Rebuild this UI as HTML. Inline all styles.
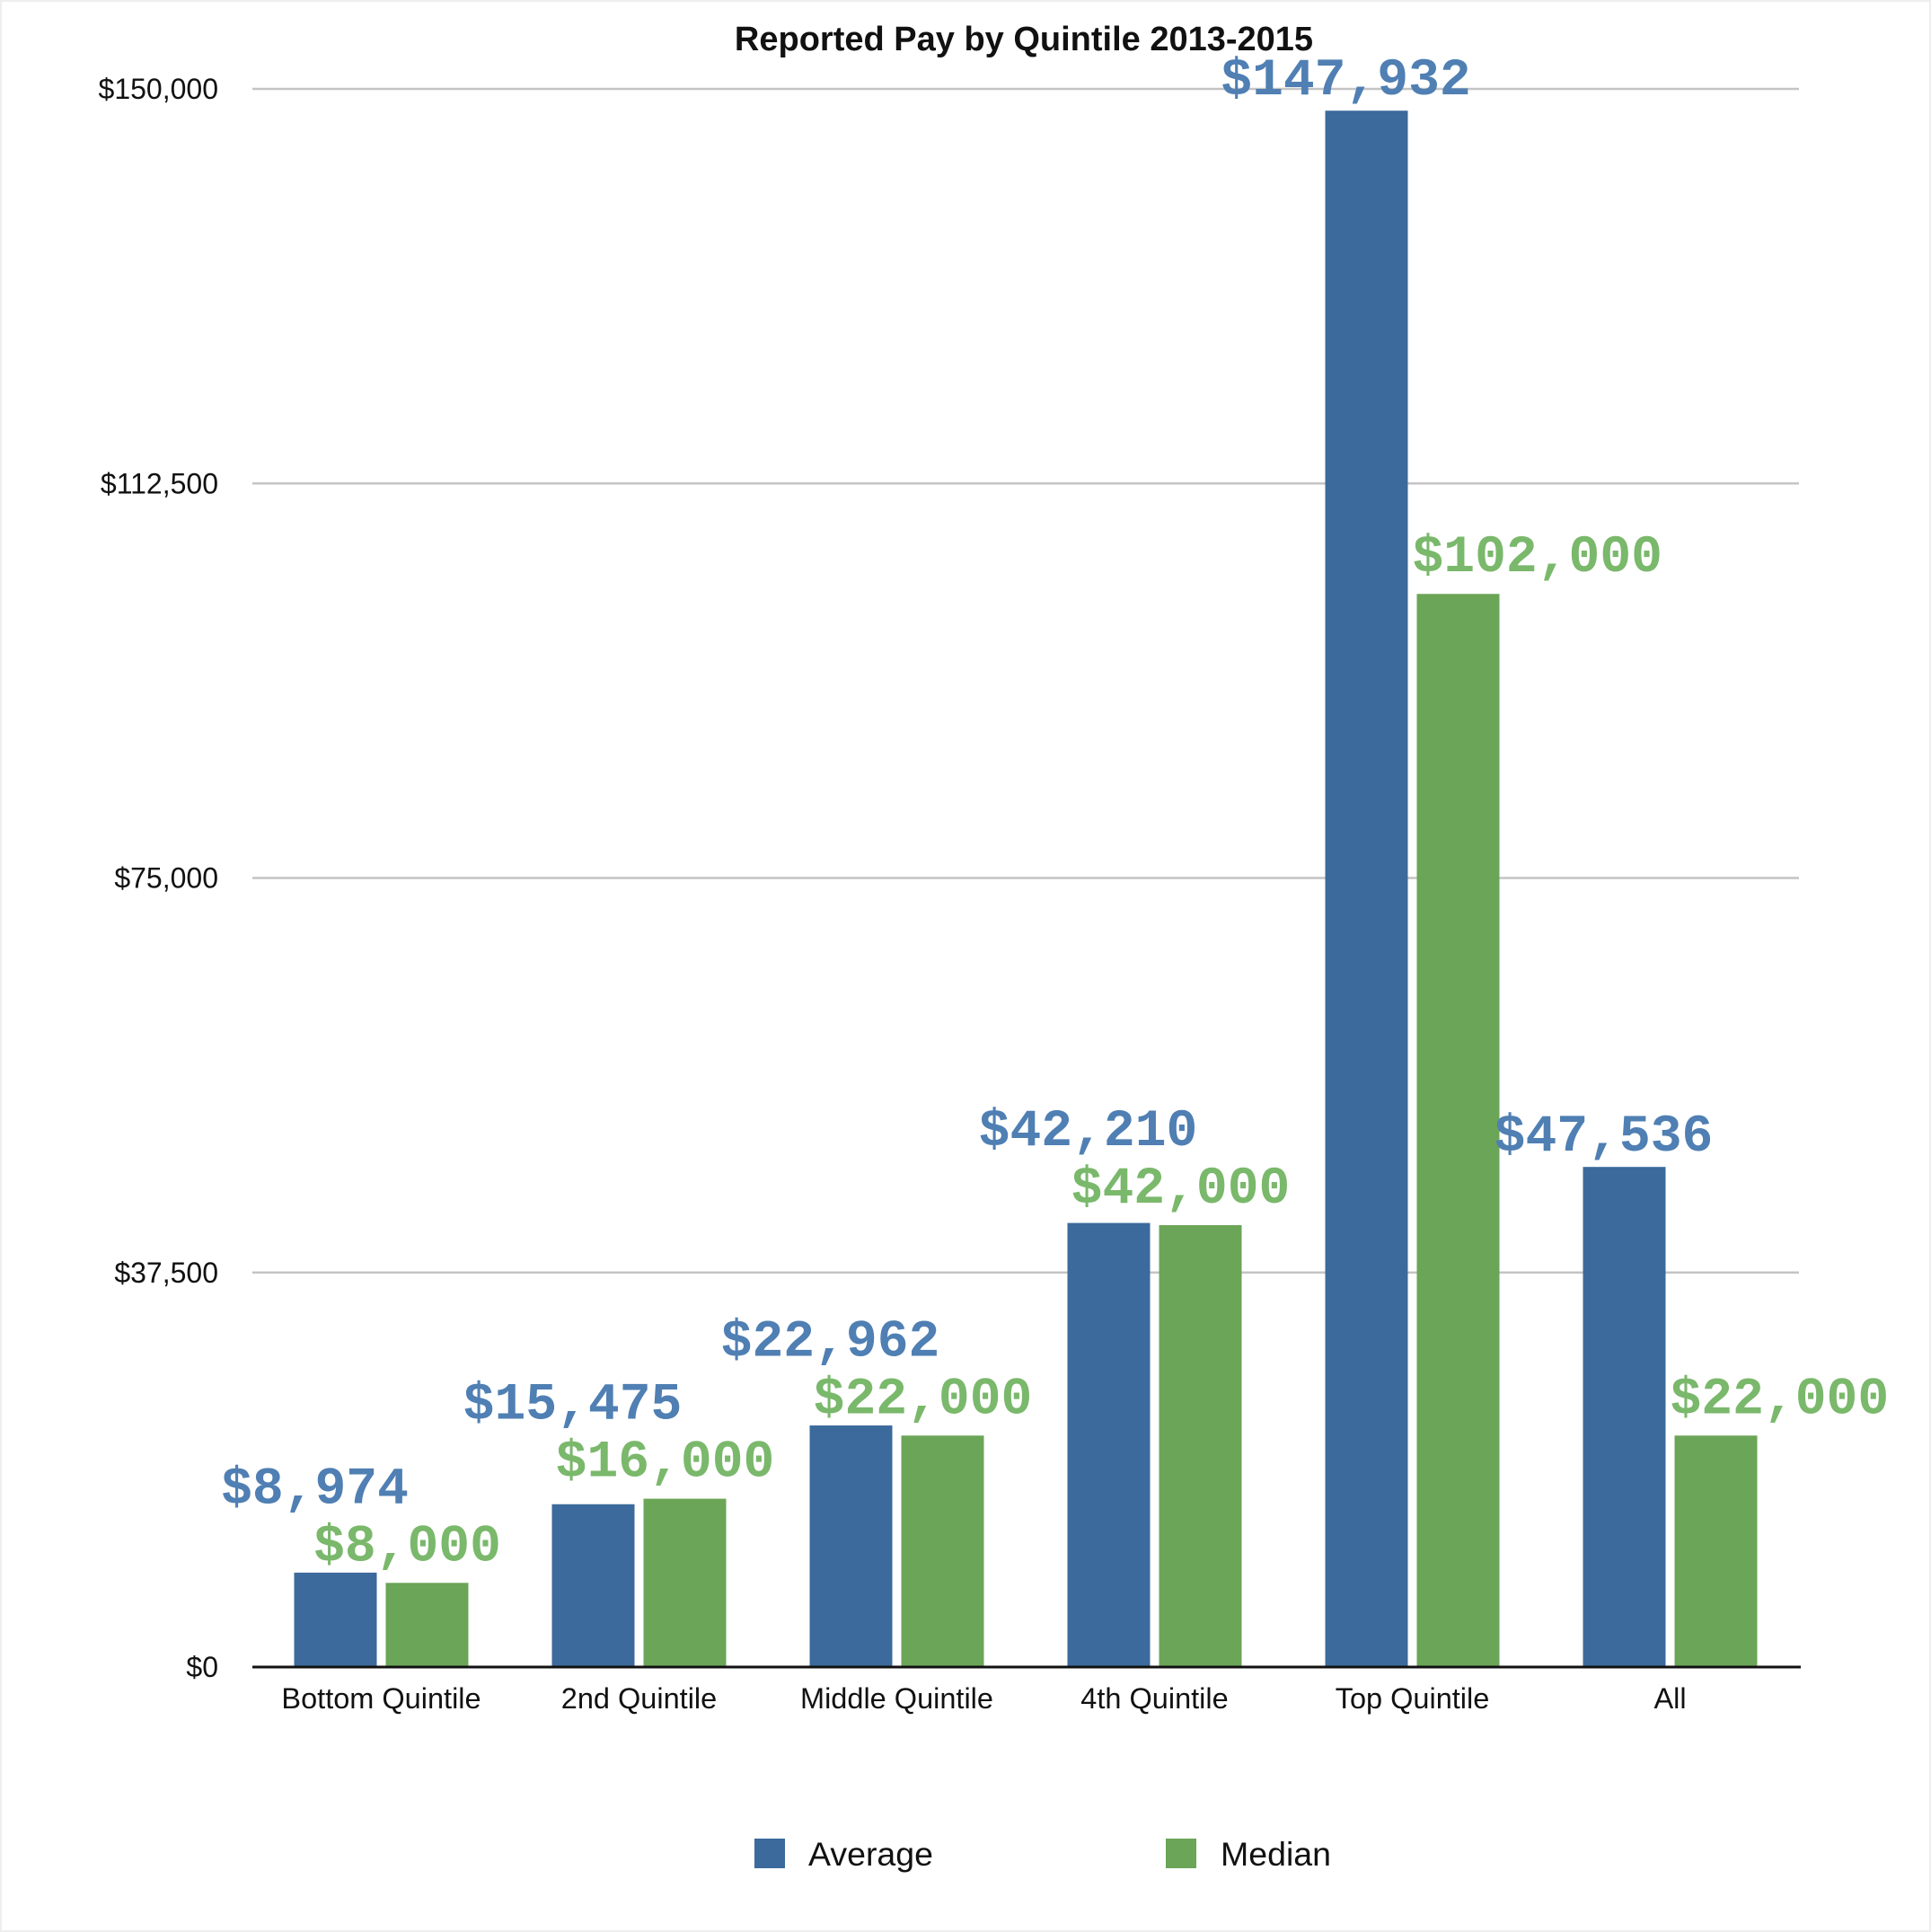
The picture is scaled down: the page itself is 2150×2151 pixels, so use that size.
<!DOCTYPE html>
<html><head><meta charset="utf-8">
<style>
html,body{margin:0;padding:0;background:#fff;}
svg{display:block;}
text{font-family:"Liberation Sans",Arial,sans-serif;}
.val{font-family:"Liberation Mono","Courier New",monospace;font-weight:bold;}
</style></head>
<body>
<svg id="chart" width="2150" height="2151" viewBox="0 0 2150 2151" xmlns="http://www.w3.org/2000/svg">
<rect x="1" y="1" width="2148" height="2149" fill="#fff" stroke="#eeeeee" stroke-width="2"/>
<text x="1140" y="56" text-anchor="middle" font-size="38" font-weight="bold" fill="#111">Reported Pay by Quintile 2013-2015</text>
<g id="grid"></g>
<g id="bars"></g>
<g id="labels"></g>
<g id="xaxis"></g>
<g>
  <rect x="840" y="2047" width="34" height="33" fill="#3c6a9c"/>
  <text x="900" y="2077" font-size="37.5" fill="#111">Average</text>
  <rect x="1298" y="2047" width="34" height="33" fill="#6ba557"/>
  <text x="1359" y="2077" font-size="37.5" fill="#111">Median</text>
</g>
</svg>
<script>
const categories = ["Bottom Quintile","2nd Quintile","Middle Quintile","4th Quintile","Top Quintile","All"];
const averageValues = [8974,15475,22962,42210,147932,47536];
const medianValues = [8000,16000,22000,42000,102000,22000];
const tickValues = [0,37500,75000,112500,150000];
const tickLabels = ["$0","$37,500","$75,000","$112,500","$150,000"];

const NS = "http://www.w3.org/2000/svg";
const X0 = 281, X1 = 2003, Y0 = 1856, Y1 = 99, YMAX = 150000;
const band = (X1 - X0) / categories.length;
function y(v){ return Y0 - (v / YMAX) * (Y0 - Y1); }
function xc(i){ return X0 + band * (i + 0.5); }
function fmt(v){ return "$" + v.toLocaleString("en-US"); }
function mk(tag, attrs, parent){
  const e = document.createElementNS(NS, tag);
  for (const k in attrs) e.setAttribute(k, attrs[k]);
  parent.appendChild(e); return e;
}
const grid = document.getElementById("grid");
tickValues.forEach((t, i) => {
  if (t > 0) {
    const l = mk("line", {x1:X0, x2:X1, y1:y(t), y2:y(t), stroke:"#c4c4c4", "stroke-width":2.5}, grid);
    
    
  }
  const tx = mk("text", {x:243, y:y(t)+11, "text-anchor":"end", "font-size":32, fill:"#111"}, grid);
  
  
  tx.textContent = tickLabels[i];
});
const bars = document.getElementById("bars");
const labels = document.getElementById("labels");
const xaxis = document.getElementById("xaxis");
const BW = 92, GAP = 10;
categories.forEach((c, i) => {
  const cx = xc(i);
  const aL = cx - GAP/2 - BW, mL = cx + GAP/2;
  const aT = y(averageValues[i]), mT = y(medianValues[i]);
  const ra = mk("rect", {x:aL, y:aT, width:BW, height:Y0-aT, fill:"#3c6a9c"}, bars);
  
  
  const rm = mk("rect", {x:mL, y:mT, width:BW, height:Y0-mT, fill:"#6ba557"}, bars);
  
  
  const medY = mT - 25;
  const avgTaller = averageValues[i] > medianValues[i] * 1.3;
  const tm = mk("text", avgTaller ? {x:mL-5, y:medY, "text-anchor":"start"} : {x:mL+BW/2-22, y:medY, "text-anchor":"middle"}, labels);
  tm.setAttribute('class','val'); tm.setAttribute('font-size','58'); tm.setAttribute('fill','#7ab86b');
  
  
  tm.textContent = fmt(medianValues[i]);
  const avgY = Math.min(aT - 18, medY - 64);
  const ta = mk("text", {x:aL+BW/2-23, y:avgY, "text-anchor":"middle"}, labels);
  ta.setAttribute('class','val'); ta.setAttribute('font-size','58'); ta.setAttribute('fill','#4f7fb3');
  
  
  ta.textContent = fmt(averageValues[i]);
  const xl = mk("text", {x:cx, y:1902, "text-anchor":"middle", "font-size":32.5, fill:"#111"}, xaxis);
  
  
  xl.textContent = c;
});
const base = mk("line", {x1:X0, x2:X1+2, y1:Y0, y2:Y0, stroke:"#111", "stroke-width":3}, xaxis);


</script>
</body></html>
